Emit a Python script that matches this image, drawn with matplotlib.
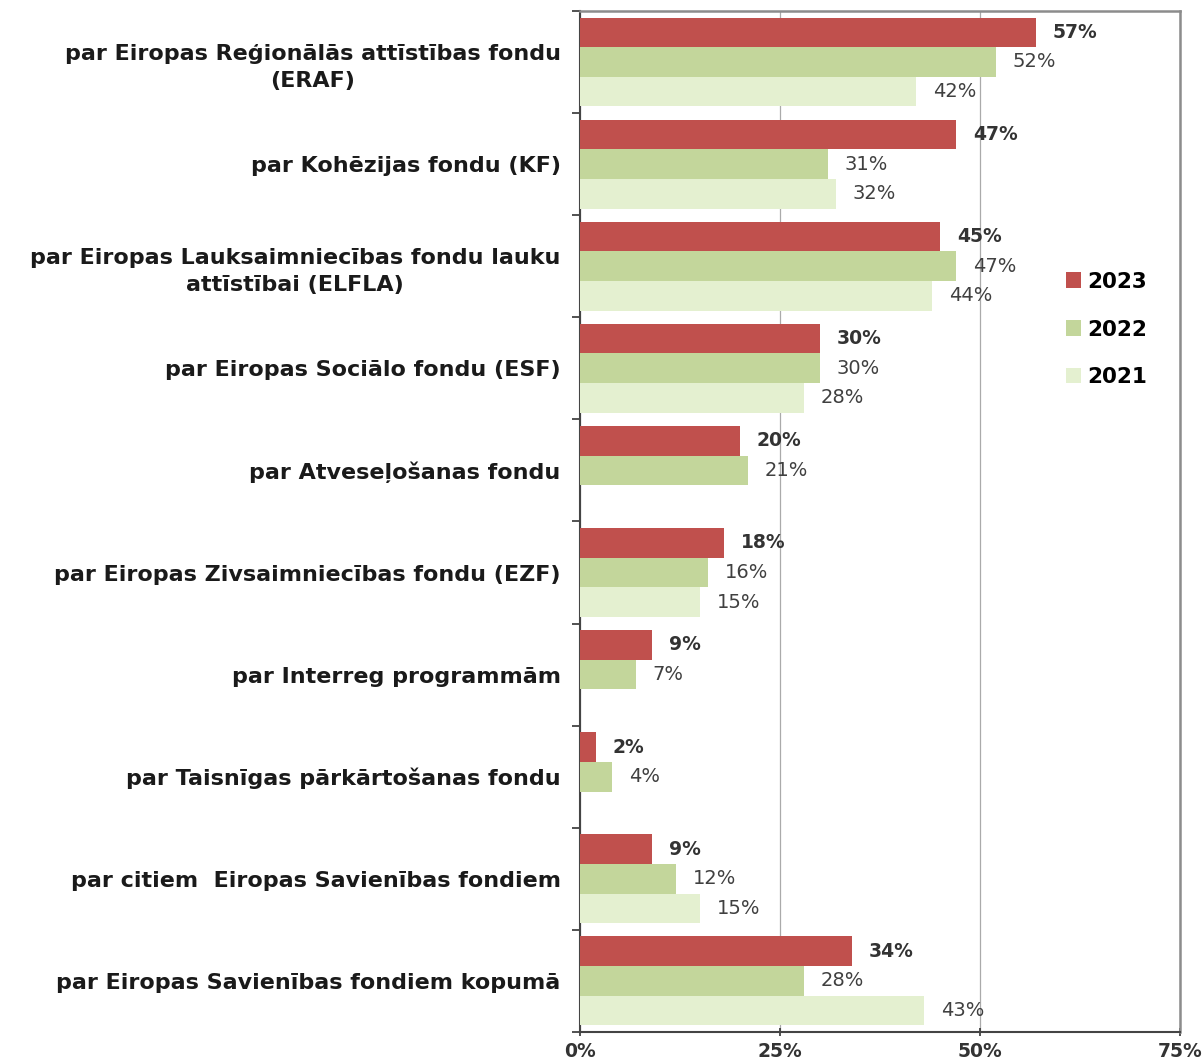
import matplotlib
matplotlib.use("Agg")
import matplotlib.pyplot as plt
import numpy as np

plt.rcParams['font.family'] = ['DejaVu Sans']

categories = [
    "par Eiropas Reģionālās attīstības fondu\n(ERAF)",
    "par Kohēzijas fondu (KF)",
    "par Eiropas Lauksaimniecības fondu lauku\nattīstībai (ELFLA)",
    "par Eiropas Sociālo fondu (ESF)",
    "par Atveseļošanas fondu",
    "par Eiropas Zivsaimniecības fondu (EZF)",
    "par Interreg programmām",
    "par Taisnīgas pārkārtošanas fondu",
    "par citiem  Eiropas Savienības fondiem",
    "par Eiropas Savienības fondiem kopumā",
]
series_names = ["2023", "2022", "2021"]
v2023 = [57, 47, 45, 30, 20, 18, 9, 2, 9, 34]
v2022 = [52, 31, 47, 30, 21, 16, 7, 4, 12, 28]
v2021 = [42, 32, 44, 28, None, 15, None, None, 15, 43]
xticks = [0, 25, 50, 75]
xticklabels = ["0%", "25%", "50%", "75%"]

colors = ["#C0504D", "#C3D69B", "#E4F0D0"]
offsets = [-0.29, 0.0, 0.29]
bar_h = 0.29

fig = plt.figure(figsize=(12.02, 10.63), dpi=100)
ax = fig.add_axes([0.4825, 0.0292, 0.4992, 0.9605])

y = np.arange(len(categories))
for s, (name, vals, col, off) in enumerate(zip(series_names, [v2023, v2022, v2021], colors, offsets)):
    for i, v in enumerate(vals):
        if v is None:
            continue
        ax.barh(y[i] + off, v, height=bar_h, color=col, zorder=3,
                label=name if i == 0 else None)
        ax.text(v + 2.1, y[i] + off, f"{v}%", va='center', ha='left',
                fontsize=13.5 if s == 0 else 14, color='#333333' if s == 0 else '#404040',
                fontweight='bold' if s == 0 else 'normal', zorder=4)

ax.set_xlim(0, 75)
ax.set_ylim(len(categories) - 0.5, -0.5)
ax.set_xticks(xticks)
ax.set_xticklabels(xticklabels, fontweight='bold', fontsize=13.5, color='#333333')
ax.set_yticks(y)
ax.set_yticklabels(categories, fontweight='bold', fontsize=16, color='#1a1a1a',
                   multialignment='center', linespacing=1.45)
ax.set_yticks(np.arange(len(categories) + 1) - 0.5, minor=True)
ax.tick_params(axis='y', which='major', length=0, pad=14)
ax.tick_params(axis='y', which='minor', length=6, width=1.2, color='#333333', direction='out')
ax.tick_params(axis='x', which='major', length=6, width=1.2, color='#333333', direction='inout', pad=4)

ax.xaxis.grid(True, color='#aaaaaa', linewidth=0.9, zorder=0)
ax.set_axisbelow(True)
for side in ['top', 'right']:
    ax.spines[side].set_color('#8c8c8c')
    ax.spines[side].set_linewidth(1.8)
for side in ['left', 'bottom']:
    ax.spines[side].set_color('#444444')
    ax.spines[side].set_linewidth(1.5)

leg = ax.legend(loc='center left', bbox_to_anchor=(0.778, 0.688), frameon=False,
                prop={'weight': 'bold', 'size': 15.5}, handlelength=0.7, handleheight=0.7,
                handletextpad=0.3, labelspacing=1.3)

fig.savefig("out.png", dpi=100)
